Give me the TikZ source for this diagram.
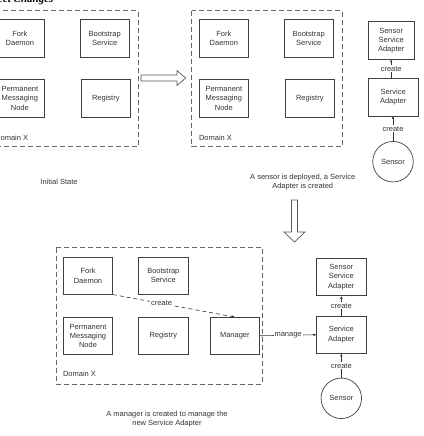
\documentclass[tikz,border=0pt]{standalone}
\usepackage{fontspec}
\setmainfont{Liberation Serif}
\newfontfamily\arialfont{Liberation Sans}
\usetikzlibrary{arrows.meta}
\usetikzlibrary{positioning}

\begin{document}
\begin{tikzpicture}[
    x=1pt, y=-1pt,
    every node/.style={font=\arialfont\fontsize{7.5}{9.3}\selectfont, text=black!80},
    box/.style={draw=black!75, line width=0.8pt, minimum width=49.5pt, minimum height=37.5pt,
      inner sep=0pt, outer sep=0pt, align=center},
    sensorc/.style={circle, draw=black!75, line width=0.7pt, minimum size=40.5pt, inner sep=0pt, outer sep=0pt},
    domainbox/.style={draw=black!60, line width=1pt, dash pattern=on 5pt off 3pt},
    link/.style={draw=black!80, line width=0.6pt, -{Latex[length=3pt,width=2.6pt]}},
    tag/.style={fill=white, inner sep=1pt},
    hollow/.style={draw=black!65, line width=0.7pt, fill=white},
  ]
  \useasboundingbox (0,0) rectangle (423,436);

  % title, clipped at the top
  \node[anchor=base east, font=\bfseries\itshape\fontsize{11}{13}\selectfont, text=black] (title) at (57,3) {Object Changes};

  % initial state
  \draw[domainbox] (-12.3,10.7) rectangle (138,146.7);
  \node[box] (fd1) at (19.85,38.3)  {Fork\\Daemon};
  \node[box] (bs1) at (104.7,38.3)  {Bootstrap\\Service};
  \node[box] (pm1) at (19.85,98.2)  {Permanent\\Messaging\\Node};
  \node[box] (rg1) at (105.8,98.2)  {Registry};
  \node[anchor=west] (dx1) at (-8.3,138) {Domain X};
  \node (cap1) at (59,181.7) {Initial State};

  \draw[hollow] (141,75) -- (177,75) -- (177,70.7) -- (185.7,78) -- (177,85.3) -- (177,81) -- (141,81) -- cycle;

  % sensor deployed
  \draw[domainbox] (191.7,10.7) rectangle (342,146.7);
  \node[box] (fd2) at (223.85,38.3) {Fork\\Daemon};
  \node[box] (bs2) at (308.7,38.3)  {Bootstrap\\Service};
  \node[box] (pm2) at (223.85,98.2) {Permanent\\Messaging\\Node};
  \node[box] (rg2) at (309.8,98.2)  {Registry};
  \node[anchor=west] (dx2) at (195.5,138) {Domain X};
  \node[align=center] (cap2) at (302.7,182) {A sensor is deployed, a Service\\Adapter is created};

  \node[box, minimum width=46pt] (ssa2) at (391.2,40.5) {Sensor\\Service\\Adapter};
  \node[box] (sa2) at (393.2,97.2) {Service\\Adapter};
  \node[sensorc] (sn2) at (393,161.7) {Sensor};
  \draw[link] (sa2.north -| ssa2.south) -- node[tag] {create} (ssa2.south);
  \draw[link] (sn2.north) -- node[tag] {create} (sn2.north |- sa2.south);

  \draw[hollow] (291.5,200) -- (297.5,200) -- (297.5,232) -- (305,232) -- (294.5,242) -- (284,232) -- (291.5,232) -- cycle;

  % manager created
  \draw[domainbox] (56,247.7) rectangle (262,384);
  \node[box] (fd3) at (88,275.8)    {Fork\\Daemon};
  \node[box] (bs3) at (163.3,275.8) {Bootstrap\\Service};
  \node[box] (pm3) at (88,335.8)    {Permanent\\Messaging\\Node};
  \node[box] (rg3) at (163.3,335.8) {Registry};
  \node[box] (mg3) at (234.85,335.8) {Manager};
  \node[anchor=west] (dx3) at (59.5,374.3) {Domain X};
  \node[align=center] (cap3) at (167,419.2) {A manager is created to manage the\\new Service Adapter};

  \node[box] (ssa3) at (341.3,277) {Sensor\\Service\\Adapter};
  \node[box] (sa3) at (341.3,334.7) {Service\\Adapter};
  \node[sensorc] (sn3) at (341.3,398.3) {Sensor};

  \draw[link, dash pattern=on 4pt off 3pt] (fd3.south east) -- node[tag, pos=0.4] {create} (mg3.north);
  \draw[link] (mg3.east) -- node[tag] {manage} (sa3.west);
  \draw[link] (sa3.north) -- node[tag] {create} (ssa3.south);
  \draw[link] (sn3.north) -- node[tag] {create} (sa3.south);

\end{tikzpicture}
\end{document}
